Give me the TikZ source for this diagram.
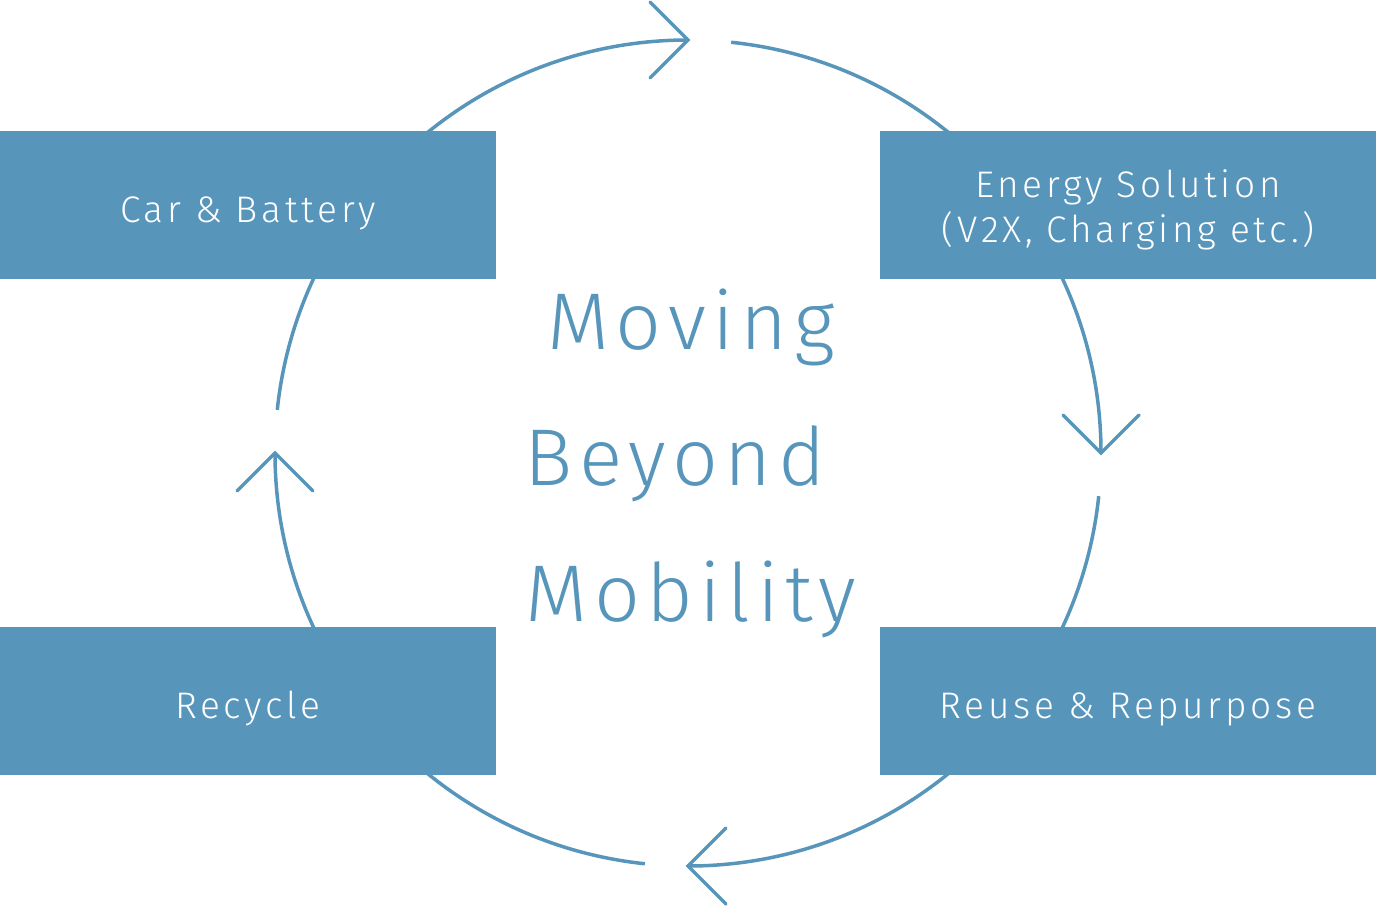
\documentclass[tikz,border=0pt]{standalone}
\usepackage{fontspec}
\setmainfont{Fira Sans}[UprightFont={* Light}, LetterSpace=10]
\newfontfamily\titlefont{Fira Sans}[UprightFont={* Light}, LetterSpace=8]
\usepackage{tikz}
\usetikzlibrary{positioning, calc}
\definecolor{cycleblue}{RGB}{87, 149, 187}

\begin{document}
\begin{tikzpicture}[x=1pt, y=-1pt,
    stage/.style={fill=cycleblue, text=white, align=center,
                  minimum width=496pt, minimum height=148pt, inner sep=0pt,
                  text height=34pt, text depth=0pt,
                  font=\fontsize{37}{45}\selectfont},
    flow/.style={draw=cycleblue, line width=3.5pt},
    chev/.style={draw=cycleblue, line width=3.5pt, line cap=round, line join=miter},
    title/.style={text=cycleblue, inner sep=0pt, anchor=base,
                  font=\titlefont\fontsize{80.5}{90}\selectfont}]
  \useasboundingbox (0,0) rectangle (1376,908);
  % chevron tips and the open ends of the ring
  \coordinate (tipT) at (688,40);
  \coordinate (tipR) at (1101,453);
  \coordinate (tipB) at (688,866);
  \coordinate (tipL) at (275,453);
  \coordinate (endL) at ($(688,453)+(186:413)$);
  \coordinate (endT) at ($(688,453)+(276:413)$);
  \coordinate (endR) at ($(688,453)+(6:413)$);
  \coordinate (endB) at ($(688,453)+(96:413)$);
  % the ring
  \draw[flow] (endL) arc[start angle=186, end angle=270, radius=413];
  \draw[flow] (endT) arc[start angle=276, end angle=360, radius=413];
  \draw[flow] (endR) arc[start angle=6, end angle=90, radius=413];
  \draw[flow] (endB) arc[start angle=96, end angle=180, radius=413];
  \draw[chev] (tipT) ++(-38,-38) -- (tipT) -- ++(-38,38);
  \draw[chev] (tipR) ++(-38,-38) -- (tipR) -- ++(38,-38);
  \draw[chev] (tipB) ++(38,-38) -- (tipB) -- ++(38,38);
  \draw[chev] (tipL) ++(-38,38) -- (tipL) -- ++(38,38);
  % stages
  \node[stage] (car)    at (248,205)  {Car \& Battery};
  \node[stage, text height=74pt] (energy) at (1128,205) {Energy Solution\\(V2X, Charging etc.)};
  \node[stage] (reuse)  at (1128,701) {Reuse \& Repurpose};
  \node[stage] (recyc)  at (248,701)  {Recycle};
  % centre title
  \node[title] (moving)   at (691,349) {Moving};
  \node[title] (beyond)   at (675,485) {Beyond};
  \node[title] (mobility) at (691,621) {Mobility};
\end{tikzpicture}
\end{document}
